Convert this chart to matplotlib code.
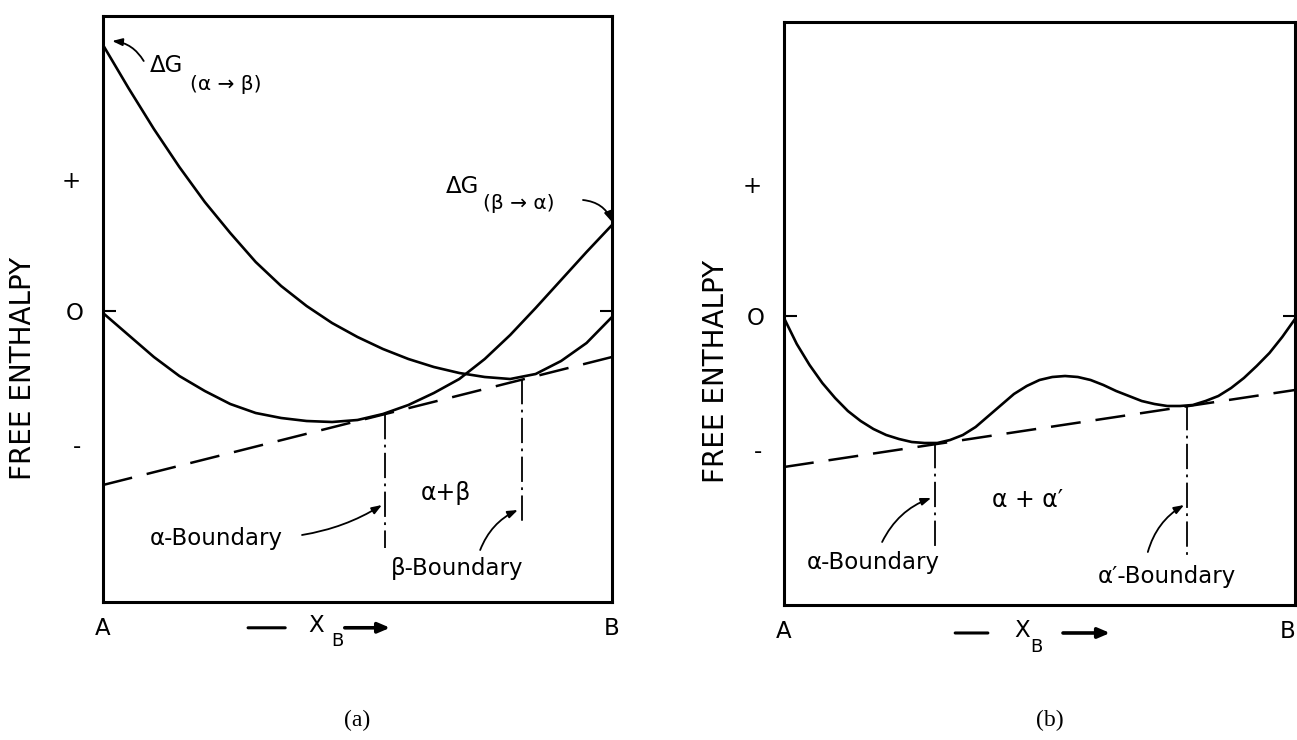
import matplotlib.pyplot as plt

# panel (a): composition X_B (0 = A, 1 = B) and free enthalpy (arbitrary units)
a_x = [0.0, 0.05, 0.10, 0.15, 0.20, 0.25, 0.30, 0.35, 0.40, 0.45, 0.50,
       0.55, 0.60, 0.65, 0.70, 0.75, 0.80, 0.85, 0.90, 0.95, 1.0]
alpha_g = [-0.02, -0.24, -0.46, -0.65, -0.80, -0.93, -1.02, -1.07, -1.10, -1.11, -1.09,
           -1.03, -0.94, -0.82, -0.68, -0.48, -0.24, 0.03, 0.31, 0.59, 0.86]
beta_g = [2.66, 2.23, 1.82, 1.44, 1.09, 0.78, 0.49, 0.25, 0.05, -0.12, -0.26,
          -0.38, -0.48, -0.56, -0.62, -0.66, -0.68, -0.63, -0.50, -0.32, -0.06]
tangent_a_x = [0.0, 1.0]
tangent_a_g = [-1.74, -0.46]
bound_a_x = [0.554, 0.823]
bound_a_top = [-1.03, -0.68]
bound_a_bot = [-2.37, -2.11]

# panel (b): one curve with two minima
b_x = [0.0, 0.025, 0.05, 0.075, 0.10, 0.125, 0.15, 0.175, 0.20, 0.225, 0.25,
       0.275, 0.30, 0.325, 0.35, 0.375, 0.40, 0.425, 0.45, 0.475, 0.50,
       0.525, 0.55, 0.575, 0.60, 0.625, 0.65, 0.675, 0.70, 0.725, 0.75,
       0.775, 0.80, 0.825, 0.85, 0.875, 0.90, 0.925, 0.95, 0.975, 1.0]
curve_b_g = [-0.02, -0.28, -0.49, -0.67, -0.82, -0.95, -1.05, -1.13, -1.19, -1.23, -1.26,
             -1.27, -1.27, -1.24, -1.19, -1.11, -1.00, -0.89, -0.78, -0.70, -0.64,
             -0.61, -0.60, -0.61, -0.64, -0.69, -0.75, -0.80, -0.85, -0.88, -0.90,
             -0.90, -0.89, -0.85, -0.80, -0.72, -0.62, -0.50, -0.37, -0.21, -0.03]
tangent_b_x = [0.0, 1.0]
tangent_b_g = [-1.51, -0.74]
bound_b_x = [0.295, 0.789]
bound_b_top = [-1.27, -0.89]
bound_b_bot = [-2.31, -2.39]

ytick_pos = [1.32, 0.0, -1.33]
ytick_lab = ['+', 'O', '-']

FS = 16.5
fig = plt.figure(figsize=(12.97, 7.40), dpi=100)
W, H = 1297.0, 740.0
ax1 = fig.add_axes([103 / W, 1 - 602 / H, 509 / W, 586 / H])
ax2 = fig.add_axes([784 / W, 1 - 605 / H, 511 / W, 583 / H])


def style(ax, ylo, yhi):
    ax.set_xlim(0, 1)
    ax.set_ylim(ylo, yhi)
    for s in ax.spines.values():
        s.set_linewidth(2.2)
    ax.set_xticks([0, 1])
    ax.set_xticklabels(['A', 'B'])
    ax.tick_params(axis='x', length=0, pad=11, labelsize=FS)
    ax.set_yticks([ytick_pos[1]])
    ax.set_yticklabels([ytick_lab[1]])
    ax.set_yticks([ytick_pos[0], ytick_pos[2]], minor=True)
    ax.set_yticklabels([ytick_lab[0], ytick_lab[2]], minor=True)
    ax.tick_params(axis='y', which='major', direction='in', length=9, width=1.5,
                   right=True, pad=14, labelsize=FS)
    ax.tick_params(axis='y', which='minor', length=0, pad=16, labelsize=FS)


def xlabel(ax, d0, d1, xc, bx, y, by, a0, a1):
    ax.annotate('', xy=(d1, y), xytext=(d0, y), xycoords='axes fraction',
                arrowprops=dict(arrowstyle='-', lw=2.2, shrinkA=0, shrinkB=0),
                annotation_clip=False)
    ax.text(xc, y + 0.004, 'X', transform=ax.transAxes, ha='center', va='center',
            fontsize=FS, clip_on=False)
    ax.text(bx, by, 'B', transform=ax.transAxes, ha='center', va='center',
            fontsize=13, clip_on=False)
    ax.annotate('', xy=(a1, y), xytext=(a0, y), xycoords='axes fraction',
                arrowprops=dict(arrowstyle='-|>,head_length=0.7,head_width=0.3',
                                lw=2.6, color='k', shrinkA=0, shrinkB=0),
                annotation_clip=False)


def pointer(ax, xy, xytext, rad):
    ax.annotate('', xy=xy, xytext=xytext,
                arrowprops=dict(arrowstyle='-|>,head_length=0.6,head_width=0.22',
                                lw=1.3, color='k', shrinkA=0, shrinkB=0,
                                connectionstyle='arc3,rad=%s' % rad))


# ---------- (a) ----------
style(ax1, -2.91, 2.95)
ax1.plot(a_x, alpha_g, 'k-', lw=1.9)
ax1.plot(a_x, beta_g, 'k-', lw=1.9)
ax1.plot(tangent_a_x, tangent_a_g, 'k', lw=1.8, dashes=(12, 6))
for x, t, b in zip(bound_a_x, bound_a_top, bound_a_bot):
    ax1.plot([x, x], [t, b], 'k', lw=1.3, dashes=(14, 3, 1.5, 3))

ax1.text(0.092, 2.39, 'ΔG', fontsize=FS, ha='left', va='baseline')
ax1.text(0.170, 2.21, '(α → β)', fontsize=14.5, ha='left', va='baseline')
pointer(ax1, (0.018, 2.70), (0.080, 2.50), 0.25)
ax1.text(0.674, 1.18, 'ΔG', fontsize=FS, ha='left', va='baseline')
ax1.text(0.747, 1.02, '(β → α)', fontsize=14.5, ha='left', va='baseline')
pointer(ax1, (1.0, 0.89), (0.943, 1.11), -0.3)

ax1.text(0.222, -2.27, 'α-Boundary', fontsize=FS, ha='center', va='center')
pointer(ax1, (0.548, -1.94), (0.391, -2.24), 0.1)
ax1.text(0.674, -1.82, 'α+β', fontsize=17, ha='center', va='center')
ax1.text(0.695, -2.57, 'β-Boundary', fontsize=FS, ha='center', va='center')
pointer(ax1, (0.815, -1.99), (0.741, -2.39), -0.2)
xlabel(ax1, 0.285, 0.358, 0.418, 0.460, -0.044, -0.066, 0.475, 0.564)

# ---------- (b) ----------
style(ax2, -2.89, 2.94)
ax2.get_xticklabels()[1].set_ha('right')
ax2.plot(b_x, curve_b_g, 'k-', lw=1.9)
ax2.plot(tangent_b_x, tangent_b_g, 'k', lw=1.8, dashes=(12, 6))
for x, t, b in zip(bound_b_x, bound_b_top, bound_b_bot):
    ax2.plot([x, x], [t, b], 'k', lw=1.3, dashes=(14, 3, 1.5, 3))

ax2.text(0.174, -2.47, 'α-Boundary', fontsize=FS, ha='center', va='center')
pointer(ax2, (0.288, -1.82), (0.192, -2.26), -0.2)
ax2.text(0.477, -1.84, 'α + α′', fontsize=17, ha='center', va='center')
ax2.text(0.750, -2.61, 'α′-Boundary', fontsize=FS, ha='center', va='center')
pointer(ax2, (0.783, -1.89), (0.712, -2.36), -0.2)
xlabel(ax2, 0.335, 0.399, 0.466, 0.493, -0.048, -0.072, 0.546, 0.638)

# y labels and panel captions
fig.text(23 / W, 1 - 368 / H, 'FREE ENTHALPY', rotation=90, fontsize=20,
         ha='center', va='center')
fig.text(716 / W, 1 - 371 / H, 'FREE ENTHALPY', rotation=90, fontsize=20,
         ha='center', va='center')
fig.text(357 / W, 1 - 720 / H, '(a)', fontsize=17, family='Liberation Serif',
         ha='center', va='center')
fig.text(1050 / W, 1 - 720 / H, '(b)', fontsize=17, family='Liberation Serif',
         ha='center', va='center')

fig.savefig('out.png', dpi=100)
